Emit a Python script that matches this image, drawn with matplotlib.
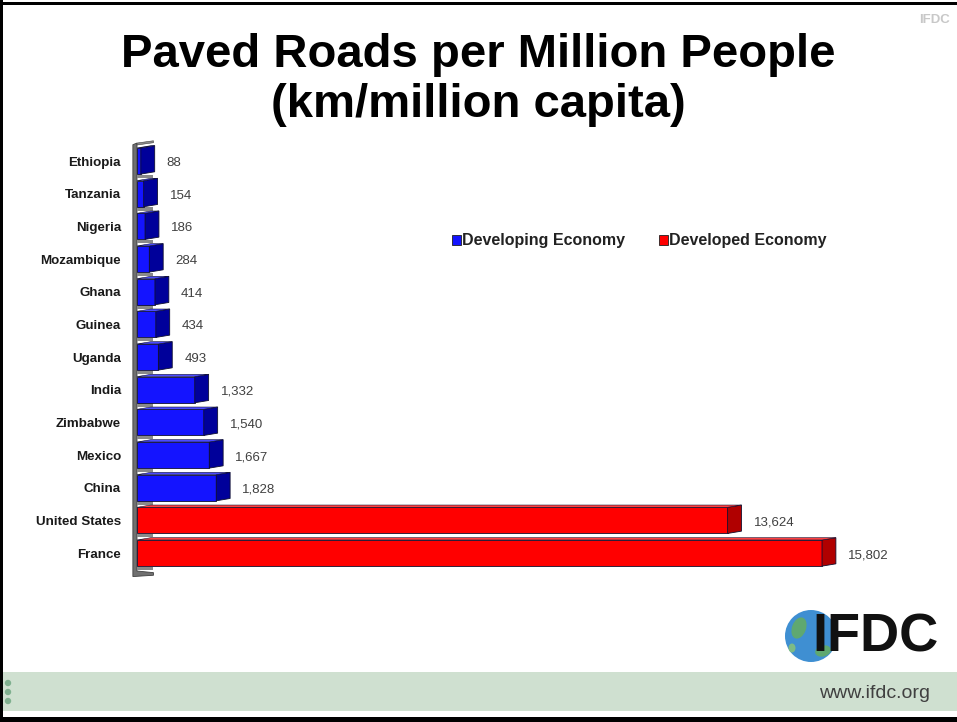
import matplotlib
matplotlib.use("Agg")
import matplotlib.pyplot as plt
from matplotlib.patches import Polygon, Rectangle, Circle, Ellipse, Patch

plt.rcParams["font.family"] = ["Liberation Sans", "DejaVu Sans"]

COUNTRIES = [
    "Ethiopia", "Tanzania", "Nigeria", "Mozambique", "Ghana", "Guinea",
    "Uganda", "India", "Zimbabwe", "Mexico", "China", "United States", "France",
]
ROAD_KM = [88, 154, 186, 284, 414, 434, 493, 1332, 1540, 1667, 1828, 13624, 15802]
GROUPS = ["dev"] * 11 + ["ind"] * 2
GROUP_LABELS = {"dev": "Developing Economy", "ind": "Developed Economy"}

FRONT = {"dev": "#1414ff", "ind": "#ff0000"}
SIDE = {"dev": "#00009a", "ind": "#b00000"}
TOP = {"dev": "#4a4aff", "ind": "#ff4040"}

BAR_H = 0.8
DEPTH_X = 320     # 3d depth along x, data units
DEPTH_Y = -0.07   # 3d depth along y, rows


def draw_bar3d(ax, y, v, grp):
    y0, y1 = y - BAR_H / 2, y + BAR_H / 2
    ax.barh(y, v, height=BAR_H, color=FRONT[grp], edgecolor="#101030",
            linewidth=0.6, zorder=3)
    side = Polygon([(v, y0), (v + DEPTH_X, y0 + DEPTH_Y),
                    (v + DEPTH_X, y1 + DEPTH_Y), (v, y1)],
                   closed=True, facecolor=SIDE[grp], edgecolor="#101030",
                   linewidth=0.6, zorder=3)
    top = Polygon([(0, y0), (v, y0), (v + DEPTH_X, y0 + DEPTH_Y),
                   (DEPTH_X, y0 + DEPTH_Y)],
                  closed=True, facecolor=TOP[grp], edgecolor="#101030",
                  linewidth=0.4, zorder=3)
    ax.add_patch(side)
    ax.add_patch(top)


fig = plt.figure(figsize=(9.57, 7.22), dpi=100)
fig.patch.set_facecolor("white")

# slide frame and footer band
bg = fig.add_axes([0, 0, 1, 1], zorder=-5)
bg.set_xlim(0, 957)
bg.set_ylim(722, 0)
bg.axis("off")
bg.add_patch(Rectangle((0, 672), 957, 39, facecolor="#cfe0d0", edgecolor="none"))
bg.add_patch(Rectangle((0, 2), 957, 3, facecolor="black", edgecolor="none"))
bg.add_patch(Rectangle((0, 717), 957, 5, facecolor="black", edgecolor="none"))
bg.add_patch(Rectangle((0, 0), 2.5, 722, facecolor="black", edgecolor="none"))
for yy in (683, 692, 701):
    bg.add_patch(Circle((8, yy), 3.2, facecolor="#7fb08f", edgecolor="none"))

# globe logo
bg.add_patch(Circle((811, 636), 26, facecolor="#3f8fd2", edgecolor="none"))
bg.add_patch(Ellipse((799, 628), 14, 22, angle=20, facecolor="#5fa870", edgecolor="none"))
bg.add_patch(Ellipse((823, 651), 16, 11, angle=-15, facecolor="#5fa870", edgecolor="none"))
bg.add_patch(Ellipse((792, 648), 7, 9, facecolor="#7dbb85", edgecolor="none"))
bg.text(875, 637, "IFDC", fontsize=39, fontweight="bold", color="#111111",
        ha="center", va="center")
bg.text(930, 693, "www.ifdc.org", fontsize=14, color="#404040",
        ha="right", va="center")
bg.text(950, 20, "IFDC", fontsize=9.5, fontweight="bold", color="#c8c8c8",
        ha="right", va="center")

fig.text(0.5, 1 - 55 / 722, "Paved Roads per Million People", fontsize=34,
         fontweight="bold", ha="center", va="center")
fig.text(0.5, 1 - 105 / 722, "(km/million capita)", fontsize=34,
         fontweight="bold", ha="center", va="center")

ax = fig.add_axes([137 / 957, 1 - 580 / 722, 780.3 / 957, 440 / 722])
ax.set_xlim(0, 18000)
ax.set_ylim(12.825, -0.643)
for s in ax.spines.values():
    s.set_visible(False)
ax.set_xticks([])

rows = list(range(len(COUNTRIES)))

# left wall and floor strips
wall = Polygon([(-95, -0.5), (0, -0.55), (0, 12.55), (380, 12.6),
                (380, 12.68), (-95, 12.72)],
               closed=True, facecolor="#707070", edgecolor="#404040",
               linewidth=0.6, clip_on=False, zorder=1)
ax.add_patch(wall)
ax.add_patch(Polygon([(0, -0.55), (380, -0.62), (380, -0.56), (0, -0.49)],
                     closed=True, facecolor="#8a8a8a", edgecolor="#404040",
                     linewidth=0.4, clip_on=False, zorder=1))
for y in rows:
    ax.add_patch(Rectangle((0, y + BAR_H / 2 + 0.02), 380, 0.1,
                           facecolor="#8a8a8a", edgecolor="none", zorder=2))

for y, v, grp in zip(rows, ROAD_KM, GROUPS):
    draw_bar3d(ax, y, v, grp)
    ax.annotate(f"{v:,}", xy=(v, y), xytext=(26, -2), textcoords="offset pixels",
                fontsize=9.5, color="#404040", ha="left", va="center")

ax.set_yticks(rows)
ax.set_yticklabels(COUNTRIES, fontsize=9.6, fontweight="bold", color="#1a1a1a")
ax.tick_params(axis="y", length=0, pad=11.5)

handles = [Patch(facecolor=FRONT[g], edgecolor="#202020", linewidth=0.6,
                 label=GROUP_LABELS[g]) for g in ("dev", "ind")]
fig.legend(handles=handles, loc="center left",
           bbox_to_anchor=(452 / 957, 1 - 241 / 722), ncol=2, frameon=False,
           prop={"size": 11.5, "weight": "bold"}, labelcolor="#222222",
           handlelength=0.55, handleheight=0.55, handletextpad=0.1,
           columnspacing=2.1, borderpad=0, borderaxespad=0)

fig.savefig("out.png", dpi=100)
